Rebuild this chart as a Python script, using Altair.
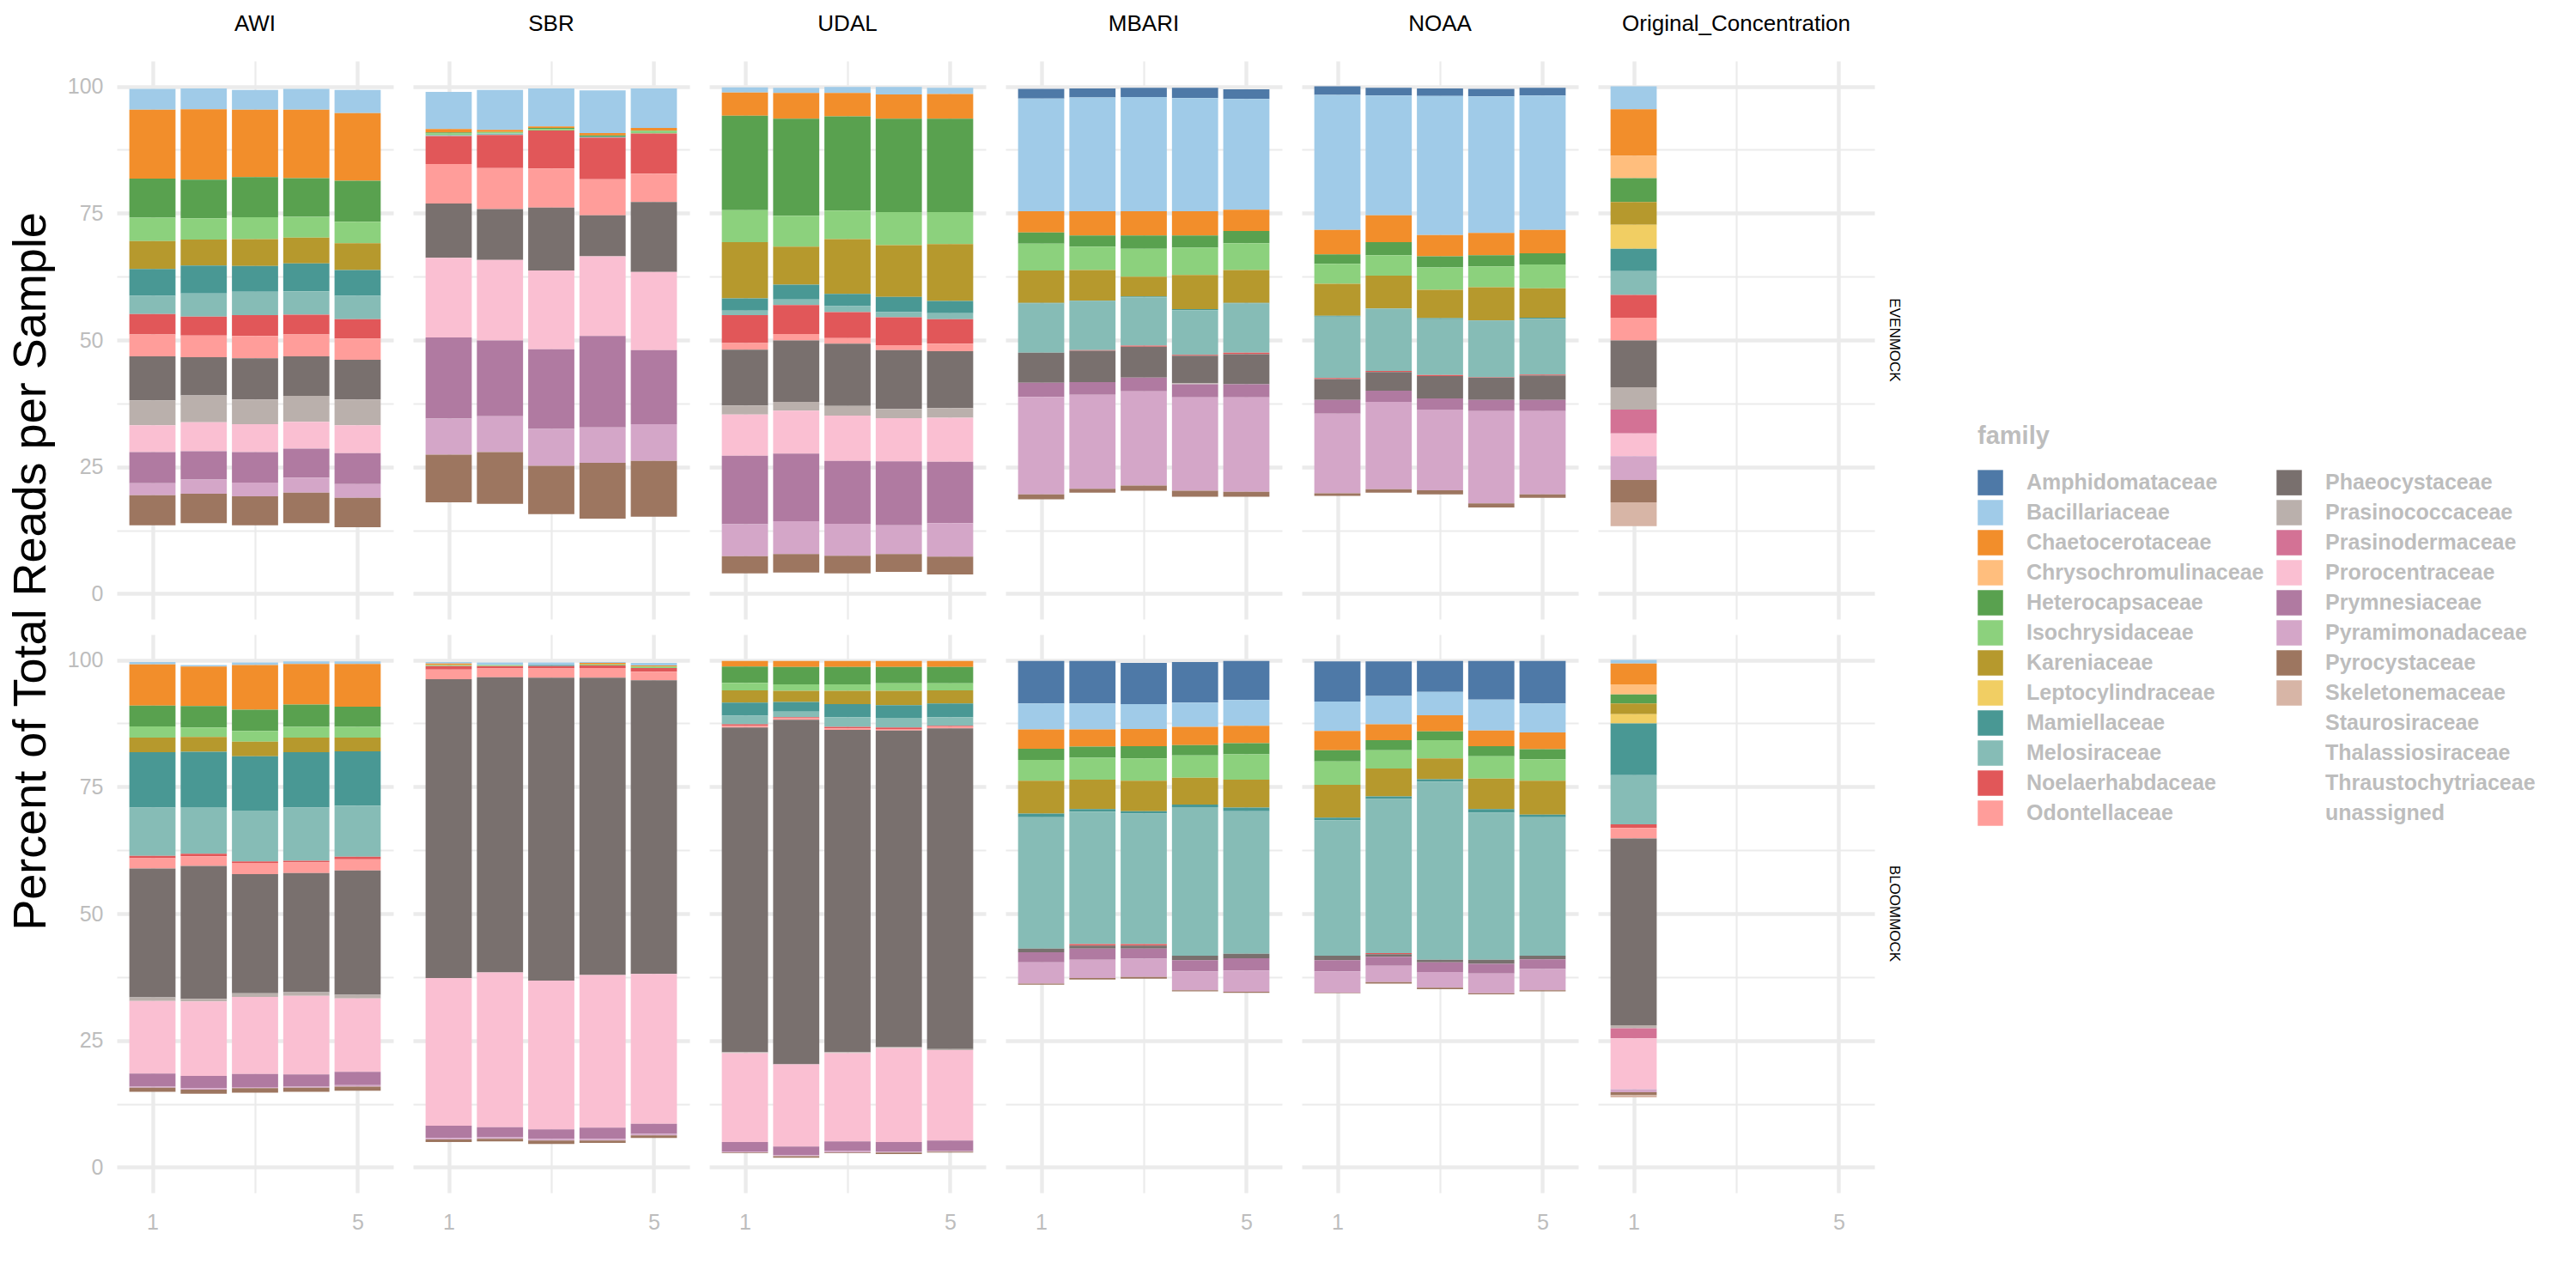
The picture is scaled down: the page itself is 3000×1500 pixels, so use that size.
import altair as alt
import pandas as pd

FAMILIES = ["Amphidomataceae", "Bacillariaceae", "Chaetocerotaceae", "Chrysochromulinaceae",
            "Heterocapsaceae", "Isochrysidaceae", "Kareniaceae", "Leptocylindraceae",
            "Mamiellaceae", "Melosiraceae", "Noelaerhabdaceae", "Odontellaceae",
            "Phaeocystaceae", "Prasinococcaceae", "Prasinodermaceae", "Prorocentraceae",
            "Prymnesiaceae", "Pyramimonadaceae", "Pyrocystaceae", "Skeletonemaceae",
            "Staurosiraceae", "Thalassiosiraceae", "Thraustochytriaceae", "unassigned"]
COLORS = ["#4e79a7", "#a0cbe8", "#f28e2b", "#ffbe7d", "#59a14f", "#8cd17d", "#b6992d", "#f1ce63",
          "#499894", "#86bcb6", "#e15759", "#ff9d9a", "#79706e", "#bab0ac", "#d37295", "#fabfd2",
          "#b07aa1", "#d4a6c8", "#9d7660", "#d7b5a6",
          "transparent", "transparent", "transparent", "transparent"]
LABS = ["AWI", "SBR", "UDAL", "MBARI", "NOAA", "Original_Concentration"]
MOCKS = ["EVENMOCK", "BLOOMMOCK"]

# ---------------- EVENMOCK ----------------
AWI_EVEN = {
    "Bacillariaceae": [4.1, 4.1, 3.9, 4.1, 4.6],
    "Chaetocerotaceae": [13.6, 13.9, 13.3, 13.5, 13.3],
    "Heterocapsaceae": [7.7, 7.6, 7.9, 7.6, 8.1],
    "Isochrysidaceae": [4.6, 4.2, 4.3, 4.1, 4.2],
    "Kareniaceae": [5.5, 5.1, 5.3, 5.1, 5.3],
    "Mamiellaceae": [5.3, 5.5, 5.1, 5.5, 5.1],
    "Melosiraceae": [3.6, 4.6, 4.6, 4.6, 4.6],
    "Noelaerhabdaceae": [4.0, 3.7, 4.1, 3.9, 3.8],
    "Odontellaceae": [4.3, 4.3, 4.4, 4.3, 4.2],
    "Phaeocystaceae": [8.7, 7.5, 8.1, 7.8, 7.8],
    "Prasinococcaceae": [4.9, 5.3, 4.9, 5.1, 5.1],
    "Prorocentraceae": [5.3, 5.7, 5.5, 5.3, 5.5],
    "Prymnesiaceae": [6.1, 5.6, 6.0, 5.7, 6.1],
    "Pyramimonadaceae": [2.4, 2.8, 2.7, 3.0, 2.7],
    "Pyrocystaceae": [5.9, 5.8, 5.7, 6.0, 5.8],
    "unassigned": [13.5, 13.9, 13.5, 13.9, 13.1],
}
SBR_EVEN = {
    "Bacillariaceae": [7.3, 7.9, 7.5, 8.4, 7.8],
    "Chaetocerotaceae": [0.7, 0.4, 0.3, 0.5, 0.5],
    "Heterocapsaceae": [0.2, 0.0, 0.2, 0.2, 0.1],
    "Isochrysidaceae": [0.3, 0.3, 0.3, 0.0, 0.5],
    "Melosiraceae": [0.2, 0.3, 0.0, 0.2, 0.0],
    "Noelaerhabdaceae": [5.5, 6.5, 7.5, 8.2, 7.9],
    "Odontellaceae": [7.8, 8.1, 7.7, 7.1, 5.6],
    "Phaeocystaceae": [10.7, 10.0, 12.4, 8.1, 13.8],
    "Prorocentraceae": [15.7, 15.9, 15.5, 15.7, 15.4],
    "Prymnesiaceae": [16.0, 14.9, 15.7, 18.0, 14.6],
    "Pyramimonadaceae": [7.1, 7.1, 7.3, 7.0, 7.2],
    "Pyrocystaceae": [9.4, 10.2, 9.5, 11.0, 11.0],
    "unassigned": [18.0, 17.7, 15.7, 14.8, 15.2],
}
UDAL_EVEN = {
    "Bacillariaceae": [1.0, 1.0, 1.2, 1.5, 1.2],
    "Chaetocerotaceae": [4.6, 5.1, 4.6, 4.8, 4.9],
    "Heterocapsaceae": [18.6, 19.1, 18.6, 18.4, 18.4],
    "Isochrysidaceae": [6.3, 6.1, 5.6, 6.5, 6.3],
    "Kareniaceae": [11.1, 7.5, 10.8, 10.2, 11.2],
    "Mamiellaceae": [2.4, 2.9, 2.4, 3.0, 2.4],
    "Melosiraceae": [0.9, 1.1, 1.2, 1.0, 1.2],
    "Noelaerhabdaceae": [5.5, 5.7, 5.1, 5.5, 4.8],
    "Odontellaceae": [1.3, 1.3, 1.1, 1.0, 1.5],
    "Phaeocystaceae": [11.0, 12.1, 12.3, 11.6, 11.2],
    "Prasinococcaceae": [1.8, 1.7, 1.9, 1.8, 1.9],
    "Prorocentraceae": [8.1, 8.5, 8.9, 8.5, 8.7],
    "Prymnesiaceae": [13.5, 13.3, 12.4, 12.6, 12.1],
    "Pyramimonadaceae": [6.3, 6.5, 6.3, 5.7, 6.6],
    "Pyrocystaceae": [3.4, 3.6, 3.5, 3.5, 3.5],
    "unassigned": [4.0, 4.2, 4.0, 4.3, 3.8],
}
MBARI_EVEN = {
    "Amphidomataceae": [1.9, 1.8, 1.8, 2.0, 1.9],
    "Bacillariaceae": [22.2, 22.4, 22.5, 22.3, 21.8],
    "Chaetocerotaceae": [4.2, 4.8, 4.8, 4.8, 4.2],
    "Heterocapsaceae": [2.2, 2.2, 2.6, 2.4, 2.4],
    "Isochrysidaceae": [5.3, 4.6, 5.5, 5.4, 5.3],
    "Kareniaceae": [6.4, 6.0, 3.9, 6.7, 6.5],
    "Mamiellaceae": [0.1, 0.1, 0.2, 0.2, 0.1],
    "Melosiraceae": [9.7, 9.7, 9.5, 8.8, 9.7],
    "Noelaerhabdaceae": [0.0, 0.1, 0.2, 0.2, 0.3],
    "Phaeocystaceae": [5.9, 6.2, 6.1, 5.4, 5.9],
    "Prasinococcaceae": [0.0, 0.0, 0.0, 0.2, 0.0],
    "Prymnesiaceae": [2.8, 2.5, 2.7, 2.6, 2.6],
    "Pyramimonadaceae": [19.2, 18.5, 18.6, 18.4, 18.6],
    "Pyrocystaceae": [1.0, 0.8, 1.0, 1.2, 1.0],
    "unassigned": [18.6, 19.9, 20.3, 19.1, 19.1],
}
NOAA_EVEN = {
    "Amphidomataceae": [1.7, 1.5, 1.5, 1.5, 1.5],
    "Bacillariaceae": [26.6, 23.6, 27.4, 26.9, 26.5],
    "Chaetocerotaceae": [4.8, 5.3, 4.2, 4.4, 4.6],
    "Heterocapsaceae": [1.9, 2.6, 2.2, 2.2, 2.2],
    "Isochrysidaceae": [3.9, 4.0, 4.4, 4.1, 4.7],
    "Kareniaceae": [6.3, 6.5, 5.6, 6.5, 5.8],
    "Mamiellaceae": [0.2, 0.0, 0.2, 0.1, 0.2],
    "Melosiraceae": [12.1, 12.3, 11.0, 11.1, 11.0],
    "Noelaerhabdaceae": [0.2, 0.2, 0.2, 0.1, 0.2],
    "Phaeocystaceae": [4.1, 3.7, 4.4, 4.4, 4.8],
    "Prymnesiaceae": [2.7, 2.2, 2.2, 2.2, 2.2],
    "Pyramimonadaceae": [15.7, 17.2, 15.9, 18.2, 16.4],
    "Pyrocystaceae": [0.5, 0.7, 0.8, 0.8, 0.7],
    "unassigned": [19.3, 19.9, 19.6, 17.0, 18.9],
}
ORIG_EVEN = {
    "Bacillariaceae": [4.5], "Chaetocerotaceae": [9.2], "Chrysochromulinaceae": [4.4],
    "Heterocapsaceae": [4.7], "Kareniaceae": [4.5], "Leptocylindraceae": [4.7],
    "Mamiellaceae": [4.4], "Melosiraceae": [4.7], "Noelaerhabdaceae": [4.5],
    "Odontellaceae": [4.5], "Phaeocystaceae": [9.2], "Prasinococcaceae": [4.4],
    "Prasinodermaceae": [4.7], "Prorocentraceae": [4.5], "Pyramimonadaceae": [4.7],
    "Pyrocystaceae": [4.4], "Skeletonemaceae": [4.7], "Staurosiraceae": [4.5],
    "Thalassiosiraceae": [4.4], "Thraustochytriaceae": [4.4],
}

# ---------------- BLOOMMOCK ----------------
AWI_BLOOM = {
    "Bacillariaceae": [0.5, 0.3, 0.5, 0.5, 0.5],
    "Chaetocerotaceae": [8.1, 7.8, 8.8, 8.0, 8.4],
    "Heterocapsaceae": [4.1, 4.2, 4.2, 4.4, 4.0],
    "Isochrysidaceae": [2.2, 1.9, 2.1, 2.1, 2.1],
    "Kareniaceae": [2.9, 2.9, 2.9, 2.9, 2.7],
    "Mamiellaceae": [10.9, 10.9, 10.7, 10.9, 10.7],
    "Melosiraceae": [9.5, 9.2, 10.0, 10.5, 10.1],
    "Noelaerhabdaceae": [0.5, 0.5, 0.3, 0.3, 0.5],
    "Odontellaceae": [2.0, 1.9, 2.2, 2.1, 2.2],
    "Phaeocystaceae": [25.4, 26.2, 23.5, 23.5, 24.5],
    "Prasinococcaceae": [0.7, 0.5, 0.7, 0.7, 0.7],
    "Prorocentraceae": [14.3, 14.7, 15.2, 15.5, 14.5],
    "Prymnesiaceae": [2.6, 2.4, 2.6, 2.4, 2.6],
    "Pyramimonadaceae": [0.2, 0.3, 0.2, 0.2, 0.3],
    "Pyrocystaceae": [0.8, 0.8, 0.9, 0.8, 0.8],
    "unassigned": [14.9, 14.5, 14.7, 14.9, 15.1],
}
SBR_BLOOM = {
    "Bacillariaceae": [0.3, 0.5, 0.5, 0.2, 0.5],
    "Chaetocerotaceae": [0.3, 0.0, 0.0, 0.3, 0.2],
    "Isochrysidaceae": [0.2, 0.2, 0.0, 0.2, 0.3],
    "Mamiellaceae": [0.0, 0.0, 0.2, 0.0, 0.0],
    "Noelaerhabdaceae": [0.7, 0.5, 0.5, 0.5, 0.7],
    "Odontellaceae": [1.9, 1.7, 1.8, 1.9, 1.7],
    "Phaeocystaceae": [58.9, 58.2, 59.7, 58.6, 57.9],
    "Prorocentraceae": [29.1, 30.5, 29.3, 30.1, 29.5],
    "Prymnesiaceae": [2.4, 2.0, 1.9, 2.2, 2.0],
    "Pyramimonadaceae": [0.3, 0.3, 0.3, 0.3, 0.3],
    "Pyrocystaceae": [0.5, 0.5, 0.7, 0.5, 0.5],
    "unassigned": [5.0, 5.1, 4.6, 4.8, 5.8],
}
UDAL_BLOOM = {
    "Chaetocerotaceae": [1.1, 1.2, 1.2, 1.2, 1.2],
    "Heterocapsaceae": [3.2, 3.4, 3.4, 3.2, 3.2],
    "Isochrysidaceae": [1.5, 1.3, 1.3, 1.5, 1.4],
    "Kareniaceae": [2.4, 2.2, 2.6, 2.8, 2.6],
    "Mamiellaceae": [2.6, 1.9, 2.6, 2.5, 2.7],
    "Melosiraceae": [1.7, 1.1, 1.9, 1.9, 1.7],
    "Noelaerhabdaceae": [0.3, 0.2, 0.3, 0.3, 0.2],
    "Odontellaceae": [0.3, 0.3, 0.3, 0.3, 0.3],
    "Phaeocystaceae": [64.0, 67.9, 63.5, 62.4, 63.2],
    "Prasinococcaceae": [0.2, 0.0, 0.2, 0.2, 0.2],
    "Prorocentraceae": [17.5, 16.2, 17.4, 18.5, 17.8],
    "Prymnesiaceae": [1.9, 1.7, 1.9, 1.9, 2.1],
    "Pyramimonadaceae": [0.2, 0.2, 0.3, 0.2, 0.1],
    "Pyrocystaceae": [0.1, 0.3, 0.1, 0.3, 0.2],
    "unassigned": [2.8, 1.9, 2.8, 2.6, 2.9],
}
MBARI_BLOOM = {
    "Amphidomataceae": [8.4, 8.4, 8.1, 8.0, 7.7],
    "Bacillariaceae": [5.1, 5.1, 4.9, 4.8, 5.1],
    "Chaetocerotaceae": [3.8, 3.4, 3.4, 3.6, 3.4],
    "Heterocapsaceae": [2.2, 2.2, 2.4, 2.0, 2.2],
    "Isochrysidaceae": [4.1, 4.3, 4.4, 4.4, 5.0],
    "Kareniaceae": [6.5, 5.8, 6.0, 5.3, 5.5],
    "Mamiellaceae": [0.7, 0.5, 0.5, 0.5, 0.7],
    "Melosiraceae": [25.9, 26.1, 25.7, 29.3, 28.1],
    "Noelaerhabdaceae": [0.0, 0.3, 0.3, 0.0, 0.0],
    "Phaeocystaceae": [0.7, 0.6, 0.6, 0.9, 0.9],
    "Prymnesiaceae": [2.0, 2.2, 2.0, 2.2, 2.4],
    "Pyramimonadaceae": [4.2, 3.6, 3.6, 3.7, 4.2],
    "Pyrocystaceae": [0.2, 0.3, 0.3, 0.2, 0.2],
    "unassigned": [36.0, 37.0, 37.2, 34.7, 34.4],
}
NOAA_BLOOM = {
    "Amphidomataceae": [7.9, 6.8, 6.1, 7.6, 8.4],
    "Bacillariaceae": [5.8, 5.6, 4.6, 6.1, 5.7],
    "Chaetocerotaceae": [3.8, 3.1, 3.2, 3.1, 3.3],
    "Heterocapsaceae": [2.2, 2.0, 1.7, 2.0, 2.0],
    "Isochrysidaceae": [4.6, 3.6, 3.6, 4.4, 4.2],
    "Kareniaceae": [6.5, 5.5, 4.1, 6.0, 6.7],
    "Mamiellaceae": [0.5, 0.5, 0.5, 0.7, 0.5],
    "Melosiraceae": [26.7, 30.4, 35.1, 29.0, 27.3],
    "Noelaerhabdaceae": [0.0, 0.2, 0.0, 0.0, 0.0],
    "Phaeocystaceae": [0.9, 0.5, 0.5, 0.8, 0.7],
    "Prymnesiaceae": [2.2, 1.8, 1.9, 1.9, 1.9],
    "Pyramimonadaceae": [4.2, 3.2, 3.1, 3.9, 4.2],
    "Pyrocystaceae": [0.1, 0.3, 0.3, 0.2, 0.2],
    "unassigned": [34.3, 36.2, 35.1, 34.1, 34.7],
}
ORIG_BLOOM = {
    "Bacillariaceae": [0.7], "Chaetocerotaceae": [4.1], "Chrysochromulinaceae": [2.0],
    "Heterocapsaceae": [1.8], "Kareniaceae": [2.1], "Leptocylindraceae": [1.8],
    "Mamiellaceae": [10.2], "Melosiraceae": [9.7], "Noelaerhabdaceae": [0.7],
    "Odontellaceae": [2.1], "Phaeocystaceae": [36.8], "Prasinococcaceae": [0.6],
    "Prasinodermaceae": [2.0], "Prorocentraceae": [10.0], "Pyramimonadaceae": [0.6],
    "Pyrocystaceae": [0.6], "Skeletonemaceae": [0.4], "unassigned": [13.8],
}

PANELS = [
    ("AWI", "EVENMOCK", AWI_EVEN), ("SBR", "EVENMOCK", SBR_EVEN),
    ("UDAL", "EVENMOCK", UDAL_EVEN), ("MBARI", "EVENMOCK", MBARI_EVEN),
    ("NOAA", "EVENMOCK", NOAA_EVEN), ("Original_Concentration", "EVENMOCK", ORIG_EVEN),
    ("AWI", "BLOOMMOCK", AWI_BLOOM), ("SBR", "BLOOMMOCK", SBR_BLOOM),
    ("UDAL", "BLOOMMOCK", UDAL_BLOOM), ("MBARI", "BLOOMMOCK", MBARI_BLOOM),
    ("NOAA", "BLOOMMOCK", NOAA_BLOOM), ("Original_Concentration", "BLOOMMOCK", ORIG_BLOOM),
]

rows = []
for lab, mock, table in PANELS:
    for fam, vals in table.items():
        for i, v in enumerate(vals):
            rows.append({"lab": lab, "mock": mock, "sample": i + 1, "family": fam,
                         "pct": v, "rank": FAMILIES.index(fam)})
df = pd.DataFrame(rows)

GRID = "#ebebeb"
GREY_TXT = "#bdbdbd"
FONT = "Liberation Sans"

bars = alt.Chart(df).transform_stack(
    stack="pct", groupby=["lab", "mock", "sample"], as_=["y0", "y1"],
    sort=[alt.SortField("rank", order="descending")],
).transform_calculate(
    xa="datum.sample - 0.45", xb="datum.sample + 0.45"
).mark_bar().encode(
    x=alt.X("xa:Q", title=None,
            scale=alt.Scale(domain=[0.305, 5.695], nice=False, zero=False),
            axis=alt.Axis(values=[1, 3, 5], labelExpr="datum.value == 3 ? '' : datum.label",
                          ticks=False, domain=False, labelColor=GREY_TXT, labelFontSize=25,
                          labelPadding=22, gridColor=GRID,
                          gridWidth={"condition": {"test": "datum.value == 3", "value": 2.2},
                                     "value": 4.4})),
    x2="xb:Q",
    y=alt.Y("y0:Q", title=None,
            scale=alt.Scale(domain=[-5, 105], nice=False, zero=False),
            axis=alt.Axis(values=[0, 12.5, 25, 37.5, 50, 62.5, 75, 87.5, 100],
                          labelExpr="datum.value % 25 == 0 ? datum.label : ''",
                          ticks=False, domain=False, labelColor=GREY_TXT, labelFontSize=25,
                          labelPadding=16, gridColor=GRID,
                          gridWidth={"condition": {"test": "datum.value % 25 == 0", "value": 4.4},
                                     "value": 2.2})),
    y2="y1:Q",
    color=alt.Color("family:N",
                    scale=alt.Scale(domain=FAMILIES, range=COLORS),
                    legend=alt.Legend(title="family", orient="none", legendX=2167, legendY=423,
                                      columns=2, columnPadding=14, rowPadding=5,
                                      symbolType="square", symbolSize=870,
                                      symbolStrokeWidth=0, labelOffset=27,
                                      labelFontSize=25, labelFontWeight="bold",
                                      labelColor=GREY_TXT, titleFontSize=29,
                                      titleFontWeight="bold", titleColor=GREY_TXT,
                                      titlePadding=24, labelLimit=400)),
).properties(width=322, height=650)

chart = bars.facet(
    column=alt.Column("lab:N", sort=LABS,
                      header=alt.Header(title=None, labelFontSize=26, labelColor="black",
                                        labelPadding=30)),
    row=alt.Row("mock:N", sort=MOCKS,
                header=alt.Header(title=None, labelOrient="right", labelAngle=90,
                                  labelFontSize=17, labelColor="black", labelPadding=14)),
    spacing={"row": 18, "column": 23},
).properties(
    title=alt.TitleParams(text="Percent of Total Reads per Sample", orient="left",
                          anchor="middle", fontSize=54, fontWeight="normal",
                          color="black", offset=14, dx=60),
    padding={"left": 10, "top": 15, "right": 5, "bottom": 5},
    background="white",
).configure(font=FONT).configure_view(stroke=None)

chart.save("out.html", embed_options={"renderer": "svg", "actions": False})
